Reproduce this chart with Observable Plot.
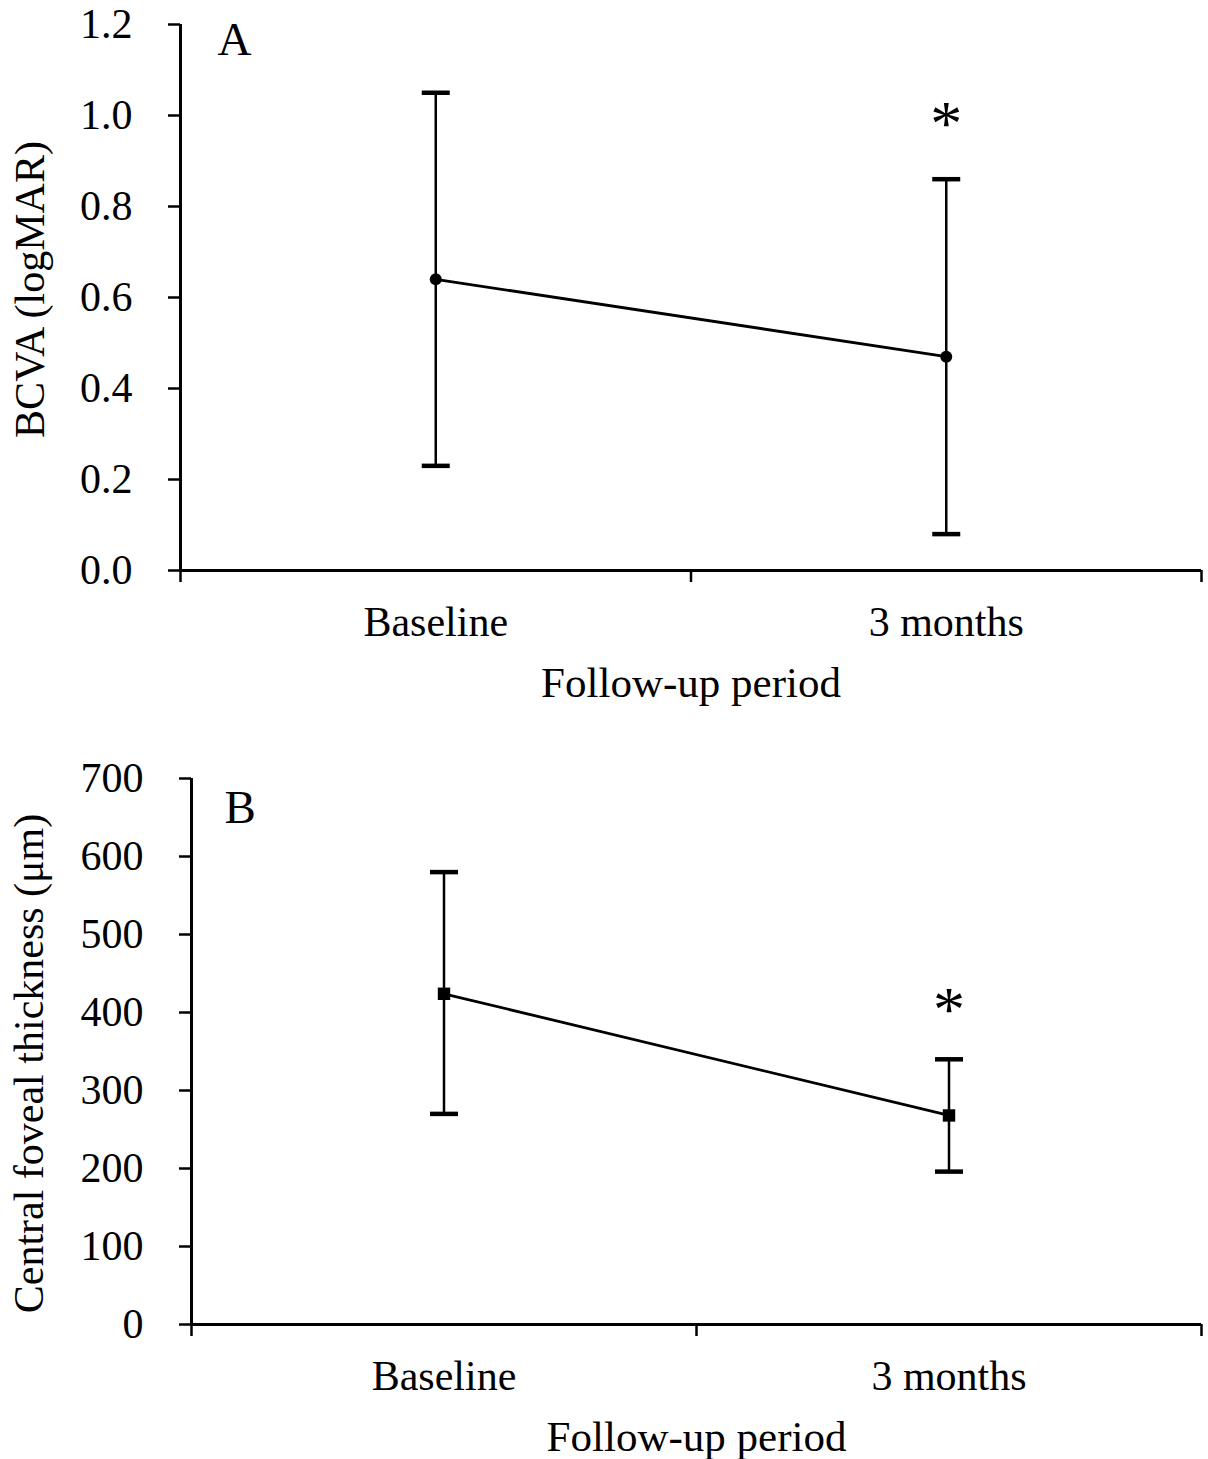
<!DOCTYPE html>
<html>
<head>
<meta charset="utf-8">
<script src="https://cdn.jsdelivr.net/npm/d3@7"></script>
<script src="https://cdn.jsdelivr.net/npm/@observablehq/plot@0.6"></script>
<style>
  html, body { margin: 0; padding: 0; background: #fff; }
  #chart { position: relative; width: 1208px; height: 1459px; }
  #chart svg { display: block; }
</style>
</head>
<body>
<div id="chart"></div>
<script>
// ---- data ----
const categories = ["Baseline", "3 months"];

const bcvaMean  = [0.64, 0.47];
const bcvaLower = [0.23, 0.08];
const bcvaUpper = [1.05, 0.86];
const bcvaTicks = [0.0, 0.2, 0.4, 0.6, 0.8, 1.0, 1.2];
const bcvaStar  = [{cat: "3 months", y: 0.98}];

const cftMean  = [424, 268];
const cftLower = [270, 196];
const cftUpper = [580, 340];
const cftTicks = [0, 100, 200, 300, 400, 500, 600, 700];
const cftStar  = [{cat: "3 months", y: 403}];

const xTitle = "Follow-up period";
const yTitleA = "BCVA (logMAR)";
const yTitleB = "Central foveal thickness (μm)";

// ---- helpers ----
const FONT = "Liberation Serif, Times New Roman, serif";
const catX = c => categories.indexOf(c) + 0.5;
const rows = (m, lo, hi) => categories.map((c, i) => ({cat: c, x: i + 0.5, mean: m[i], lo: lo[i], hi: hi[i]}));

const capSymbol = {
  draw(ctx) { ctx.moveTo(-14, 0); ctx.lineTo(14, 0); }
};

function panel({data, ticks, fmt, yDomain, star, letter, yTitle, markerSymbol, markerR,
                height, marginLeft, marginTop, marginBottom, letterDx, letterDy, yTitleDx, yTitleDy}) {
  return Plot.plot({
    width: 1208,
    height,
    marginLeft,
    marginRight: 7,
    marginTop,
    marginBottom,
    style: {fontFamily: FONT, fontSize: "42px", color: "#000", background: "#fff", overflow: "visible"},
    x: {domain: [0, categories.length], axis: null},
    y: {domain: yDomain, axis: null},
    marks: [
      Plot.axisY({ticks, tickSize: 12, tickPadding: 36, tickFormat: fmt, strokeWidth: 2.5, label: null, fontSize: 42}),
      Plot.axisX({ticks: d3.range(categories.length + 1), tickSize: 12, tickFormat: () => "", strokeWidth: 2.5, label: null}),
      Plot.ruleX([0], {strokeWidth: 3}),
      Plot.ruleY([yDomain[0]], {strokeWidth: 3}),
      // category labels
      Plot.text(categories, {x: d => catX(d), y: () => yDomain[0], text: d => d, dy: 52, lineAnchor: "middle", fontSize: 42}),
      // x title
      Plot.text([xTitle], {frameAnchor: "bottom", text: d => d, dy: 113, lineAnchor: "middle", fontSize: 43}),
      // y title
      Plot.text([yTitle], {frameAnchor: "left", text: d => d, rotate: -90, dx: yTitleDx, dy: yTitleDy, lineAnchor: "middle", textAnchor: "middle", fontSize: 42}),
      // panel letter
      Plot.text([letter], {frameAnchor: "top-left", text: d => d, dx: letterDx, dy: letterDy, lineAnchor: "top", textAnchor: "start", fontSize: 47}),
      // error bars
      Plot.ruleX(data, {x: "x", y1: "lo", y2: "hi", strokeWidth: 2.5}),
      Plot.dot(data, {x: "x", y: "hi", symbol: capSymbol, stroke: "#000", strokeWidth: 4.5, r: 5}),
      Plot.dot(data, {x: "x", y: "lo", symbol: capSymbol, stroke: "#000", strokeWidth: 4.5, r: 5}),
      // mean line & markers
      Plot.line(data, {x: "x", y: "mean", strokeWidth: 2.8}),
      Plot.dot(data, {x: "x", y: "mean", symbol: markerSymbol, r: markerR, fill: "#000", stroke: "none"}),
      // significance
      Plot.text(star, {x: d => catX(d.cat), y: "y", text: () => "*", fontSize: 64, lineAnchor: "middle"})
    ]
  });
}

const plotA = panel({
  data: rows(bcvaMean, bcvaLower, bcvaUpper),
  ticks: bcvaTicks, fmt: d3.format(".1f"), yDomain: [0, 1.2],
  star: bcvaStar, letter: "A", yTitle: yTitleA,
  markerSymbol: "circle", markerR: 6,
  height: 730, marginLeft: 180, marginTop: 24, marginBottom: 160,
  letterDx: 37, letterDy: -3, yTitleDx: -150, yTitleDy: -8
});

const plotB = panel({
  data: rows(cftMean, cftLower, cftUpper),
  ticks: cftTicks, fmt: d3.format("d"), yDomain: [0, 700],
  star: cftStar, letter: "B", yTitle: yTitleB,
  markerSymbol: "square", markerR: 7,
  height: 729, marginLeft: 191, marginTop: 48, marginBottom: 135,
  letterDx: 33, letterDy: 11, yTitleDx: -162, yTitleDy: 12
});

const chart = document.getElementById("chart");
chart.appendChild(plotA);
chart.appendChild(plotB);
</script>
</body>
</html>
